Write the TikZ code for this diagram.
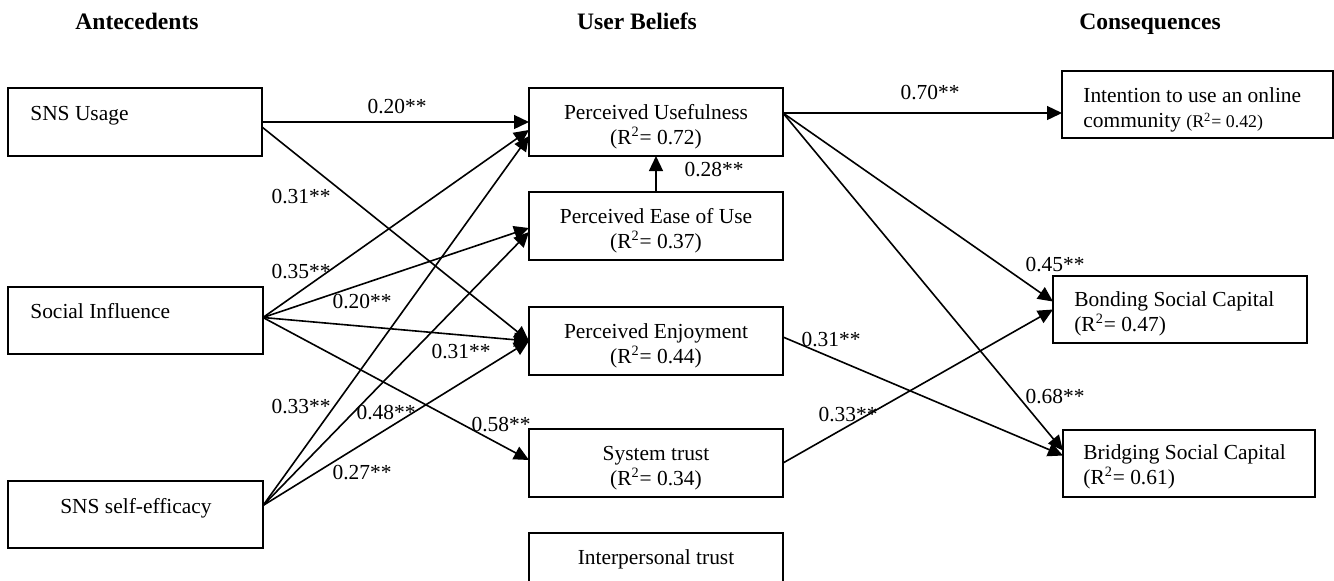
\documentclass[tikz,border=0pt]{standalone}
\usepackage{fontspec}
\setmainfont{Liberation Serif}
\usetikzlibrary{arrows.meta,calc}
\begin{document}
\begin{tikzpicture}[x=0.56pt,y=-0.56pt,
  box/.style={draw, line width=0.9pt, rectangle, inner sep=0pt, outer sep=0pt, anchor=north west,
    minimum width={254*0.56pt}, minimum height={68*0.56pt}},
  txt/.style={font=\fontsize{12}{14}\selectfont, inner sep=0pt, align=left},
  ctxt/.style={font=\fontsize{12}{14}\selectfont, inner sep=0pt, align=center},
  hdr/.style={font=\bfseries\fontsize{13.2}{15}\selectfont, inner sep=0pt, anchor=base},
  lbl/.style={font=\fontsize{12}{14}\selectfont, inner sep=0pt},
  arr/.style={line width=0.9pt, -{Triangle[length=8.4pt,width=7.8pt]}}]
\useasboundingbox (0,0) rectangle (1334,580);
\clip (0,0) rectangle (1334,580);

% headers
\node[hdr] (h1) at (137,29) {Antecedents};
\node[hdr] (h2) at (637,29) {User Beliefs};
\node[hdr] (h3) at (1150,29) {Consequences};

% antecedents
\node[box] (su) at (8,88) {};
\node[txt, anchor=base west] (sut) at (30,120) {SNS Usage};
\node[box, minimum width={255*0.56pt}, minimum height={67*0.56pt}] (si) at (8,287) {};
\node[txt, anchor=base west] (sit) at (30,318) {Social Influence};
\node[box, minimum width={255*0.56pt}, minimum height={67*0.56pt}] (se) at (8,481) {};
\node[ctxt, anchor=base] (set) at (136,513) {SNS self-efficacy};

% user beliefs
\node[box] (pu) at (529,88) {};
\node[ctxt] (put) at ($(pu.center)+(0,5)$) {Perceived Usefulness\\(R\textsuperscript{2}= 0.72)};
\node[box] (peou) at (529,192) {};
\node[ctxt] (peout) at ($(peou.center)+(0,5)$) {Perceived Ease of Use\\(R\textsuperscript{2}= 0.37)};
\node[box] (pe) at (529,307) {};
\node[ctxt] (pet) at ($(pe.center)+(0,5)$) {Perceived Enjoyment\\(R\textsuperscript{2}= 0.44)};
\node[box] (st) at (529,429) {};
\node[ctxt] (stt) at ($(st.center)+(0,5)$) {System trust\\(R\textsuperscript{2}= 0.34)};
\node[box] (it) at (529,533) {};
\node[ctxt, anchor=base] (itt) at (656,564) {Interpersonal trust};

% consequences
\node[box, minimum width={271*0.56pt}, minimum height={67*0.56pt}] (int) at (1062,71) {};
\node[txt, anchor=west] (intt) at (1083,110) {Intention to use an online\\community {\fontsize{10}{12}\selectfont(R\textsuperscript{2}= 0.42)}};
\node[box, minimum height={67*0.56pt}] (bond) at (1053,276) {};
\node[txt, anchor=west] (bondt) at (1074,314) {Bonding Social Capital\\(R\textsuperscript{2}= 0.47)};
\node[box, minimum width={252*0.56pt}, minimum height={67*0.56pt}] (brid) at (1063,430) {};
\node[txt, anchor=west] (bridt) at (1083,467) {Bridging Social Capital\\(R\textsuperscript{2}= 0.61)};

% connectors
\draw[arr] (su.east) -- (pu.west);
\draw[arr] ($(su.east)+(0,5)$) -- (pe.west);
\draw[arr] ($(si.east)+(0,-3)$) -- ($(pu.west)+(0,8)$);
\draw[arr] ($(si.east)+(0,-3)$) -- ($(peou.west)+(0,2)$);
\draw[arr] ($(si.east)+(0,-3)$) -- (pe.west);
\draw[arr] ($(si.east)+(0,-3)$) -- ($(st.west)+(0,-3)$);
\draw[arr] ($(se.east)+(0,-9)$) -- ($(pu.west)+(0,14)$);
\draw[arr] ($(se.east)+(0,-9)$) -- ($(peou.west)+(0,6)$);
\draw[arr] ($(se.east)+(0,-9)$) -- (pe.west);
\draw[arr] (peou.north) -- (pu.south);
\draw[arr] ($(pu.east)+(0,-9)$) -- ($(int.west)+(0,8.5)$);
\draw[arr] ($(pu.east)+(0,-9)$) -- ($(bond.west)+(0,-8)$);
\draw[arr] ($(pu.east)+(0,-9)$) -- ($(brid.west)+(0,-13)$);
\draw[arr] ($(pe.east)+(0,-4)$) -- ($(brid.west)+(0,-8)$);
\draw[arr] (st.east) -- (bond.west);

% path coefficients
\node[lbl] (l1) at (397,107) {0.20**};
\node[lbl] (l2) at (301,197) {0.31**};
\node[lbl] (l3) at (301,272) {0.35**};
\node[lbl] (l4) at (362,302) {0.20**};
\node[lbl] (l5) at (461,352) {0.31**};
\node[lbl] (l6) at (501,425) {0.58**};
\node[lbl] (l7) at (301,407) {0.33**};
\node[lbl] (l8) at (386,413) {0.48**};
\node[lbl] (l9) at (362,473) {0.27**};
\node[lbl] (l10) at (714,170) {0.28**};
\node[lbl] (l11) at (930,93) {0.70**};
\node[lbl] (l12) at (1055,265) {0.45**};
\node[lbl] (l13) at (1055,397) {0.68**};
\node[lbl] (l14) at (831,340) {0.31**};
\node[lbl] (l15) at (848,415) {0.33**};
\end{tikzpicture}
\end{document}
